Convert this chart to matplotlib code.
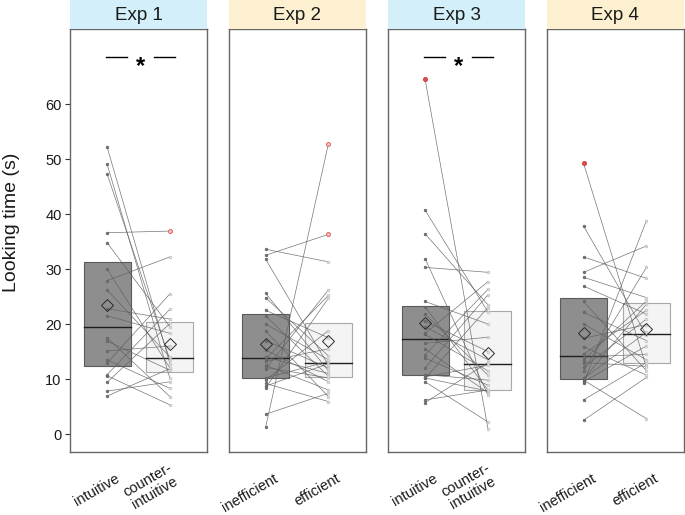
import numpy as np
import matplotlib
matplotlib.use("Agg")
import matplotlib.pyplot as plt
from matplotlib.transforms import ScaledTranslation

plt.rcParams["font.family"] = ["Liberation Sans", "DejaVu Sans"]

# ── Data (looking time in seconds, one pair per infant) ─────────────────────

titles = ["Exp 1", "Exp 2", "Exp 3", "Exp 4"]
strip_colors = ["#D3EFFA", "#FCF0D0", "#D3EFFA", "#FCF0D0"]
cond_labels = [
    ["intuitive", "counter-\nintuitive"],
    ["inefficient", "efficient"],
    ["intuitive", "counter-\nintuitive"],
    ["inefficient", "efficient"],
]
significant = [True, False, True, False]

exp1_first = [6.9, 7.8, 9.4, 10.6, 10.8, 12.9, 13.5, 15.1, 16.9, 17.5,
              21.5, 22.8, 26.2, 27.9, 30.0, 34.8, 36.6, 47.3, 49.1, 52.2]
exp1_second = [11.9, 9.5, 20.1, 5.3, 22.7, 25.5, 8.3, 16.0, 11.6, 6.8,
               18.3, 20.9, 14.0, 32.2, 12.0, 19.5, 36.9, 13.5, 10.1, 12.8]

exp2_first = [1.2, 3.6, 8.4, 8.7, 9.2, 9.8, 10.2, 11.8, 12.1, 12.5, 13.2, 13.6,
              14.0, 15.3, 17.0, 18.7, 20.0, 21.5, 22.5, 24.8, 25.6, 31.8, 32.5, 33.6]
exp2_second = [52.8, 7.4, 24.7, 12.8, 5.9, 18.8, 13.2, 26.2, 10.2, 8.0, 15.5, 25.2,
               11.0, 9.5, 12.0, 6.8, 13.5, 10.5, 17.5, 14.2, 11.5, 12.5, 36.3, 31.3]

exp3_first = [5.7, 6.2, 9.5, 10.1, 10.2, 10.4, 10.8, 12.0, 13.8, 14.4, 15.5, 16.5,
              18.1, 18.3, 19.5, 20.5, 21.8, 23.1, 24.1, 30.3, 31.9, 36.4, 40.7, 64.5]
exp3_second = [13.0, 8.0, 2.2, 23.0, 7.8, 12.5, 9.8, 25.3, 8.9, 26.3, 7.5, 17.6,
               11.5, 27.7, 13.5, 15.0, 10.7, 8.0, 20.0, 29.4, 7.1, 23.5, 22.2, 1.0]

exp4_first = [2.5, 6.2, 9.2, 9.5, 9.8, 10.0, 10.1, 11.5, 12.1, 13.0, 13.5, 14.0,
              14.5, 15.9, 17.4, 20.0, 22.1, 24.1, 26.9, 28.5, 29.4, 32.2, 37.8, 49.2]
exp4_second = [10.3, 13.0, 38.8, 16.0, 2.8, 23.6, 18.5, 30.3, 20.9, 12.3, 24.2, 14.5,
               22.5, 10.7, 19.9, 13.5, 17.0, 11.5, 21.8, 24.8, 34.2, 28.3, 18.0, 12.1]

firsts = [exp1_first, exp2_first, exp3_first, exp4_first]
seconds = [exp1_second, exp2_second, exp3_second, exp4_second]

yticks = [0, 10, 20, 30, 40, 50, 60]

# ── Style ──────────────────────────────────────────────────────────────────

W, H = 685, 515
box_fill = ["#8E8E8E", "#F4F4F4"]
box_edge = ["#5A5A5A", "#A8A8A8"]
pt_face = ["#707070", "#DEDEDE"]
pt_edge = ["#606060", "#B8B8B8"]
out_face = ["#E05050", "#F6C4C4"]
out_edge = ["#D03A3A", "#E06060"]
line_col = "#5E5E5E"

fig = plt.figure(figsize=(W / 100, H / 100), dpi=100)

panel_left = [70, 228.5, 388, 546.5]
panel_w = 137
top_px, bot_px = 29, 452

for i in range(4):
    ax = fig.add_axes([panel_left[i] / W, 1 - bot_px / H,
                       panel_w / W, (bot_px - top_px) / H])
    strip = fig.add_axes([panel_left[i] / W, 1 - top_px / H,
                          panel_w / W, top_px / H])
    strip.set_facecolor(strip_colors[i])
    strip.set_xticks([])
    strip.set_yticks([])
    for s in strip.spines.values():
        s.set_visible(False)
    strip.text(0.5, 0.45, titles[i], ha="center", va="center",
               fontsize=13.5, color="#1A1A1A", transform=strip.transAxes)

    groups = [np.array(firsts[i]), np.array(seconds[i])]

    # paired lines
    for a, b in zip(groups[0], groups[1]):
        ax.plot([1, 2], [a, b], color=line_col, lw=0.5, alpha=0.85, zorder=3)

    for j, vals in enumerate(groups):
        pos = j + 1
        q1, med, q3 = np.percentile(vals, [25, 50, 75])
        iqr = q3 - q1
        ax.bar(pos, q3 - q1, bottom=q1, width=0.75, color=box_fill[j],
               edgecolor=box_edge[j], linewidth=0.8, zorder=1)
        ax.plot([pos - 0.375, pos + 0.375], [med, med], color="#1E1E1E",
                lw=1.0, zorder=2)
        out = (vals > q3 + 1.5 * iqr) | (vals < q1 - 1.5 * iqr)
        ax.scatter(np.full((~out).sum(), pos), vals[~out], s=4, marker="o",
                   c=pt_face[j], edgecolors=pt_edge[j], linewidths=0.4, zorder=4)
        ax.scatter(np.full(out.sum(), pos), vals[out], s=8, marker="o",
                   c=out_face[j], edgecolors=out_edge[j], linewidths=0.7, zorder=4)
        ax.plot(pos, vals.mean(), marker="D", ms=6.5, mfc="none", mec="#2A2A2A",
                mew=0.7, zorder=5)

    if significant[i]:
        ax.plot([0.98, 1.32], [68.5, 68.5], color="k", lw=1.0)
        ax.plot([1.74, 2.08], [68.5, 68.5], color="k", lw=1.0)
        ax.text(1.53, 66.8, "*", ha="center", va="center", fontsize=17,
                fontweight="bold", color="k")

    ax.set_xlim(0.41, 2.59)
    ax.set_ylim(-3.27, 73.64)
    ax.set_xticks([])
    for s in ax.spines.values():
        s.set_color("#666666")
        s.set_linewidth(1.0)

    for j, lab in enumerate(cond_labels[i]):
        if "\n" in lab:
            dx, dy = 0.05, -0.21
        else:
            dx, dy = 0.11, -0.25
        shift = ax.get_xaxis_transform() + ScaledTranslation(
            dx, dy, fig.dpi_scale_trans)
        ax.text(j + 1, 0, lab, transform=shift, rotation=30,
                rotation_mode="anchor", ha="right", va="center",
                multialignment="center", linespacing=1.0,
                fontsize=10.5, color="#1A1A1A")

    if i == 0:
        ax.set_yticks(yticks)
        ax.set_yticklabels([str(t) for t in yticks], fontsize=10.5,
                           color="#1A1A1A")
        ax.tick_params(axis="y", length=3.5, width=0.8, color="#333333", pad=2.5)
    else:
        ax.set_yticks([])

fig.text(12 / W, 1 - 222 / H, "Looking time (s)", rotation=90, ha="center",
         va="center", fontsize=14, color="#1A1A1A")

fig.savefig("out.png", dpi=100)
